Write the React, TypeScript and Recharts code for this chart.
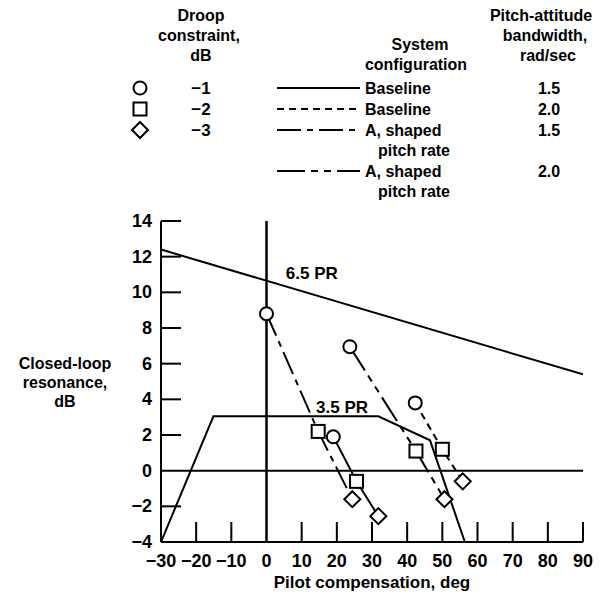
import {
  ComposedChart,
  Line,
  XAxis,
  YAxis,
  ReferenceLine,
  ReferenceDot,
} from "recharts";

// axis ticks
const xTicks = [-30, -20, -10, 0, 10, 20, 30, 40, 50, 60, 70, 80, 90];
const yTicks = [-4, -2, 0, 2, 4, 6, 8, 10, 12, 14];

// pitch-rate boundaries
const pr65 = [
  { x: -30, y: 12.4 },
  { x: 90, y: 5.4 },
];
const pr35 = [
  { x: -30, y: -4 },
  { x: -15.1, y: 3.05 },
  { x: 31.8, y: 3.05 },
  { x: 46.5, y: 1.7 },
  { x: 56.4, y: -4 },
];

// points ordered by droop constraint: -1, -2, -3 dB
const baseline15 = [
  { x: 19, y: 1.9 },
  { x: 25.6, y: -0.6 },
  { x: 31.8, y: -2.55 },
];
const baseline20 = [
  { x: 42.3, y: 3.8 },
  { x: 50, y: 1.2 },
  { x: 55.8, y: -0.6 },
];
const shaped15 = [
  { x: 0, y: 8.8 },
  { x: 14.7, y: 2.2 },
  { x: 24.4, y: -1.6 },
];
const shaped20 = [
  { x: 23.7, y: 6.95 },
  { x: 42.5, y: 1.1 },
  { x: 50.6, y: -1.6 },
];

// legend
const droopValues = ["−1", "−2", "−3"];
const configNames = [
  ["Baseline"],
  ["Baseline"],
  ["A, shaped", "pitch rate"],
  ["A, shaped", "pitch rate"],
];
const bandwidths = ["1.5", "2.0", "1.5", "2.0"];
const dashes = ["", "7 5", "24 6 6 6", "28 6 7 6 7 6"];

const FONT = "'Liberation Sans', Arial, Helvetica, sans-serif";

const fmt = (v: number) => (v < 0 ? `−${-v}` : `${v}`);

const MarkerShape = ({ cx, cy, kind }: any) => {
  if (kind === 0)
    return <circle cx={cx} cy={cy} r={6.5} fill="#fff" stroke="#000" strokeWidth={2} />;
  if (kind === 1)
    return (
      <rect x={cx - 6.5} y={cy - 6.5} width={13} height={13} fill="#fff" stroke="#000" strokeWidth={2} />
    );
  return (
    <path
      d={`M${cx},${cy - 8}L${cx + 8},${cy}L${cx},${cy + 8}L${cx - 8},${cy}Z`}
      fill="#fff"
      stroke="#000"
      strokeWidth={2}
    />
  );
};

const Dot = (props: any) => {
  if (props.cx == null) return null;
  return <MarkerShape cx={props.cx} cy={props.cy} kind={props.index} />;
};

const XTick = ({ x, y, payload }: any) => (
  <g>
    {payload.value !== -30 && payload.value !== 0 && (
      <line x1={x} y1={y} x2={x} y2={y - 20} stroke="#000" strokeWidth={2} />
    )}
    <text
      x={x}
      y={y + 25}
      textAnchor="middle"
      fontFamily={FONT}
      fontWeight="bold"
      fontSize={18}
      fill="#000"
    >
      {fmt(payload.value)}
    </text>
  </g>
);

const YTick = ({ x, y, payload }: any) => (
  <g>
    {payload.value !== -4 && payload.value !== 0 && (
      <line x1={x} y1={y} x2={x + 20} y2={y} stroke="#000" strokeWidth={2} />
    )}
    <text
      x={x - 9}
      y={y + 6}
      textAnchor="end"
      fontFamily={FONT}
      fontWeight="bold"
      fontSize={18}
      fill="#000"
    >
      {fmt(payload.value)}
    </text>
  </g>
);

const seriesLine = (data: any[], dash: string, key: string) => (
  <Line
    key={key}
    data={data}
    dataKey="y"
    type="linear"
    stroke="#000"
    strokeWidth={2}
    strokeDasharray={dash || undefined}
    dot={<Dot />}
    activeDot={false}
    isAnimationActive={false}
  />
);

const rowY = [88, 109, 130, 171];

export default function App() {
  const txt = {
    fontFamily: FONT,
    fontWeight: "bold" as const,
    fontSize: 16,
    fill: "#000",
  };
  return (
    <div style={{ position: "absolute", left: 0, top: 0, width: 606, height: 595, background: "#fff" }}>
      <ComposedChart
        width={606}
        height={595}
        margin={{ top: 221, right: 23, bottom: 0, left: 0 }}
      >
        <XAxis
          type="number"
          dataKey="x"
          domain={[-30, 90]}
          ticks={xTicks}
          allowDataOverflow
          height={53}
          tickSize={0}
          tickMargin={0}
          tickLine={false}
          axisLine={{ stroke: "#000", strokeWidth: 2 }}
          tick={<XTick />}
          interval={0}
        />
        <YAxis
          type="number"
          domain={[-4, 14]}
          ticks={yTicks}
          allowDataOverflow
          width={161}
          tickSize={0}
          tickMargin={0}
          tickLine={false}
          axisLine={{ stroke: "#000", strokeWidth: 2 }}
          tick={<YTick />}
          interval={0}
        />
        <ReferenceLine y={0} stroke="#000" strokeWidth={2} />
        <ReferenceLine x={0} stroke="#000" strokeWidth={2.5} />
        <Line data={pr65} dataKey="y" stroke="#000" strokeWidth={2} dot={false} activeDot={false} isAnimationActive={false} />
        <Line data={pr35} dataKey="y" stroke="#000" strokeWidth={2} dot={false} activeDot={false} isAnimationActive={false} />
        {seriesLine(baseline15, dashes[0], "b15")}
        {seriesLine(baseline20, dashes[1], "b20")}
        {seriesLine(shaped15, dashes[2], "s15")}
        {seriesLine(shaped20, dashes[3], "s20")}
        <ReferenceDot
          x={12.9}
          y={11.1}
          r={0}
          label={{ value: "6.5 PR", position: "center", fill: "#000", fontFamily: FONT, fontWeight: "bold", fontSize: 17 }}
        />
        <ReferenceDot
          x={21.5}
          y={3.6}
          r={0}
          label={{ value: "3.5 PR", position: "center", fill: "#000", fontFamily: FONT, fontWeight: "bold", fontSize: 17 }}
        />
      </ComposedChart>

      <svg
        width={606}
        height={595}
        style={{ position: "absolute", left: 0, top: 0, pointerEvents: "none" }}
      >
        {/* legend headers */}
        <text {...txt} x={201} y={21} textAnchor="middle">Droop</text>
        <text {...txt} x={199} y={41} textAnchor="middle">constraint,</text>
        <text {...txt} x={201} y={61} textAnchor="middle">dB</text>
        <text {...txt} x={420} y={50} textAnchor="middle">System</text>
        <text {...txt} x={416} y={70} textAnchor="middle">configuration</text>
        <text {...txt} x={541} y={21} textAnchor="middle">Pitch-attitude</text>
        <text {...txt} x={545} y={41} textAnchor="middle">bandwidth,</text>
        <text {...txt} x={548} y={61} textAnchor="middle">rad/sec</text>

        {droopValues.map((d, i) => (
          <g key={d}>
            <MarkerShape cx={140} cy={rowY[i]} kind={i} />
            <text {...txt} fontSize={17} x={201} y={rowY[i] + 6} textAnchor="middle">{d}</text>
          </g>
        ))}
        {configNames.map((lines, i) => (
          <g key={i}>
            <line
              x1={277}
              y1={rowY[i]}
              x2={360}
              y2={rowY[i]}
              stroke="#000"
              strokeWidth={2}
              strokeDasharray={dashes[i] || undefined}
            />
            {lines.map((l, j) => (
              <text key={l} {...txt} x={j === 0 ? 365 : 378} y={rowY[i] + 6 + j * 20}>{l}</text>
            ))}
            <text {...txt} x={549} y={rowY[i] + 6} textAnchor="middle">{bandwidths[i]}</text>
          </g>
        ))}

        {/* axis titles */}
        <text {...txt} fontSize={17} x={372} y={588} textAnchor="middle">Pilot compensation, deg</text>
        <text {...txt} x={65} y={369} textAnchor="middle">Closed-loop</text>
        <text {...txt} x={65} y={388} textAnchor="middle">resonance,</text>
        <text {...txt} x={65} y={407} textAnchor="middle">dB</text>
      </svg>
    </div>
  );
}
